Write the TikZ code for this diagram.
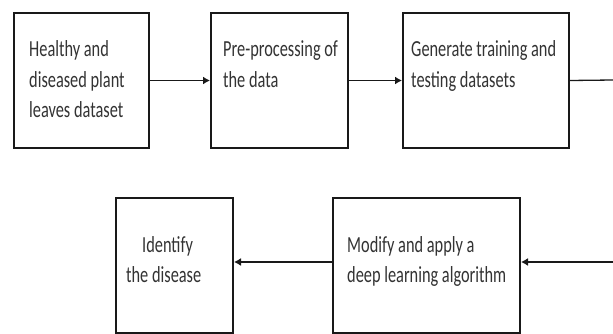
\documentclass[tikz,border=0pt]{standalone}
\usepackage{fontspec}
\setmainfont{Carlito}[FakeStretch=0.71]
\usetikzlibrary{arrows.meta}
\begin{document}
\begin{tikzpicture}[x=1pt,y=-1pt,
  box/.style={draw=black!90,line width=2pt,minimum width=#1,minimum height=135pt,inner sep=0pt},
  txt/.style={anchor=base west,inner sep=0pt,text=black!80,font=\fontsize{23}{30.5}\selectfont},
  arr/.style={draw=black!90,line width=1.3pt,-{Latex[length=7pt,width=8pt]}},
  ln/.style={draw=black!90,line width=1.3pt}]
\useasboundingbox (0,0) rectangle (613,334);
\node[box=135pt] (b1) at (81.5,80.5) {};
\node[box=137pt] (b2) at (279.5,80.5) {};
\node[box=166pt] (b3) at (486,80.5) {};
\node[box=117pt] (b4) at (174.5,265.5) {};
\node[box=187pt] (b5) at (426.5,265.5) {};
\node[txt] (t1) at (29,57) {\vtop{\baselineskip=30.5pt\hbox{Healthy and}\hbox{diseased plant}\hbox{leaves dataset}}};
\node[txt] (t2) at (223,57) {\vtop{\baselineskip=30.5pt\hbox{Pre-processing of}\hbox{the data}}};
\node[txt] (t3) at (411,57) {\vtop{\baselineskip=30.5pt\hbox{Generate training and}\hbox{testing datasets}}};
\node[txt] (t4) at (126,252) {\vtop{\baselineskip=30.5pt\hbox{\hspace{16pt}Identify}\hbox{the disease}}};
\node[txt] (t5) at (347,252) {\vtop{\baselineskip=30.5pt\hbox{Modify and apply a}\hbox{deep learning algorithm}}};
\coordinate (r1) at (613,80);
\coordinate (r2) at (613,262);
\draw[arr] (b1.east) -- (b2.west);
\draw[arr] (b2.east) -- (b3.west);
\draw[ln] (b3.east) -- (r1);
\draw[arr] (r2) -- (r2 -| b5.east);
\draw[arr] (b5.west |- r2) -- (b4.east |- r2);
\end{tikzpicture}
\end{document}
